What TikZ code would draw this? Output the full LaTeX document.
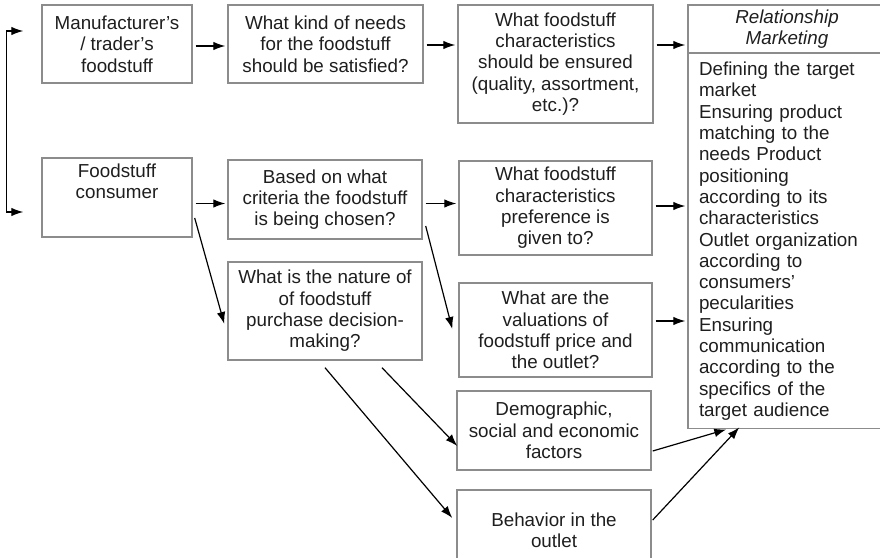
\documentclass[tikz,border=0pt]{standalone}
\usepackage{fontspec}
\setmainfont{Liberation Sans}
\usepackage{tikz}
\usetikzlibrary{arrows.meta,calc}
\definecolor{boxline}{RGB}{140,140,140}
\definecolor{ink}{RGB}{30,30,30}

\begin{document}
\begin{tikzpicture}
  [x=1pt,y=-1pt,
   every node/.style={font=\fontsize{18.8}{21.3}\selectfont,text=ink,inner sep=4pt},
   box/.style={draw=boxline,line width=1.4pt,align=center},
   arr/.style={-{Latex[length=12pt,width=8.5pt]},line width=1.2pt},
   short/.style={shorten <=3pt,shorten >=2pt}]
  \useasboundingbox (0,0) rectangle (880,557);

  \node[box,minimum width=150pt,minimum height=78pt] (A) at (117,44) {Manufacturer’s\\/ trader’s\\foodstuff};
  \node[box,minimum width=195pt,minimum height=78pt] (B) at (325.5,44) {What kind of needs\\for the foodstuff\\should be satisfied?};
  \node[box,minimum width=195pt,minimum height=118pt] (C) at (555.5,64) {What foodstuff\\characteristics\\should be ensured\\(quality, assortment,\\etc.)?};
  \node[box,minimum width=198pt,minimum height=48pt,font=\fontsize{18.8}{21.3}\selectfont\itshape] (Rh) at (787,29) {Relationship\\Marketing};
  \node[box,anchor=north,text width=176pt,inner xsep=11pt,minimum height=375pt,align=left] (Rb) at (787,53)
    {Defining the target\\market\\Ensuring product\\matching to the\\needs Product\\positioning\\according to its\\characteristics\\Outlet organization\\according to\\consumers’\\pecularities\\Ensuring\\communication\\according to the\\specifics of the\\target audience};
  \node[box,minimum width=150pt,minimum height=79pt,text depth=33pt] (D) at (117,197.5) {Foodstuff\\consumer};
  \node[box,minimum width=194pt,minimum height=79pt] (E) at (325,199.5) {Based on what\\criteria the foodstuff\\is being chosen?};
  \node[box,minimum width=193pt,minimum height=94pt] (F) at (555.5,208) {What foodstuff\\characteristics\\preference is\\given to?};
  \node[box,minimum width=194pt,minimum height=98pt] (G) at (325,311) {What is the nature of\\of foodstuff\\purchase decision-\\making?};
  \node[box,minimum width=193pt,minimum height=94pt] (H) at (555.5,330) {What are the\\valuations of\\foodstuff price and\\the outlet?};
  \node[box,minimum width=194pt,minimum height=79pt] (I) at (554,430.5) {Demographic,\\social and economic\\factors};
  \node[box,minimum width=194pt,minimum height=80pt] (J) at (554,530) {Behavior in the\\outlet};

  % straight arrows to the next column
  \foreach \from/\to/\dy in {A/B/-2,B/C/-1,C/Rh/19,D/E/-6,E/F/-4,F/Rb/2,H/Rb/9}
    \draw[arr,short] ([yshift=\dy pt]\from.east) -- ([yshift=\dy pt]\from.east -| \to.west);

  % bracket between the two starting boxes
  \draw[arr,{Latex[length=12pt,width=8.5pt]}-{Latex[length=12pt,width=8.5pt]}]
    ($(A.west)+(-18,-13)$) -- ++(-17,0) |- ($(D.west)+(-18,14.5)$);

  % slanted arrows
  \draw[arr] ($(D.east)+(2,20.5)$) -- ($(G.west)+(-3,13)$);
  \draw[arr] ($(E.east)+(3,26.5)$) -- ($(H.west)+(-6,-1)$);
  \draw[arr] ($(G.south)+(57,7)$) -- ($(I.west)+(1,15.5)$);
  \draw[arr] ($(G.south)+(0,7)$) -- ($(J.west)+(-4,-12)$);
  \draw[arr] ($(I.east)+(1,20.5)$) -- ($(Rb.south west)+(39,0)$);
  \draw[arr] ($(J.east)+(1,-10)$) -- ($(Rb.south west)+(52,-2)$);

\end{tikzpicture}
\end{document}
